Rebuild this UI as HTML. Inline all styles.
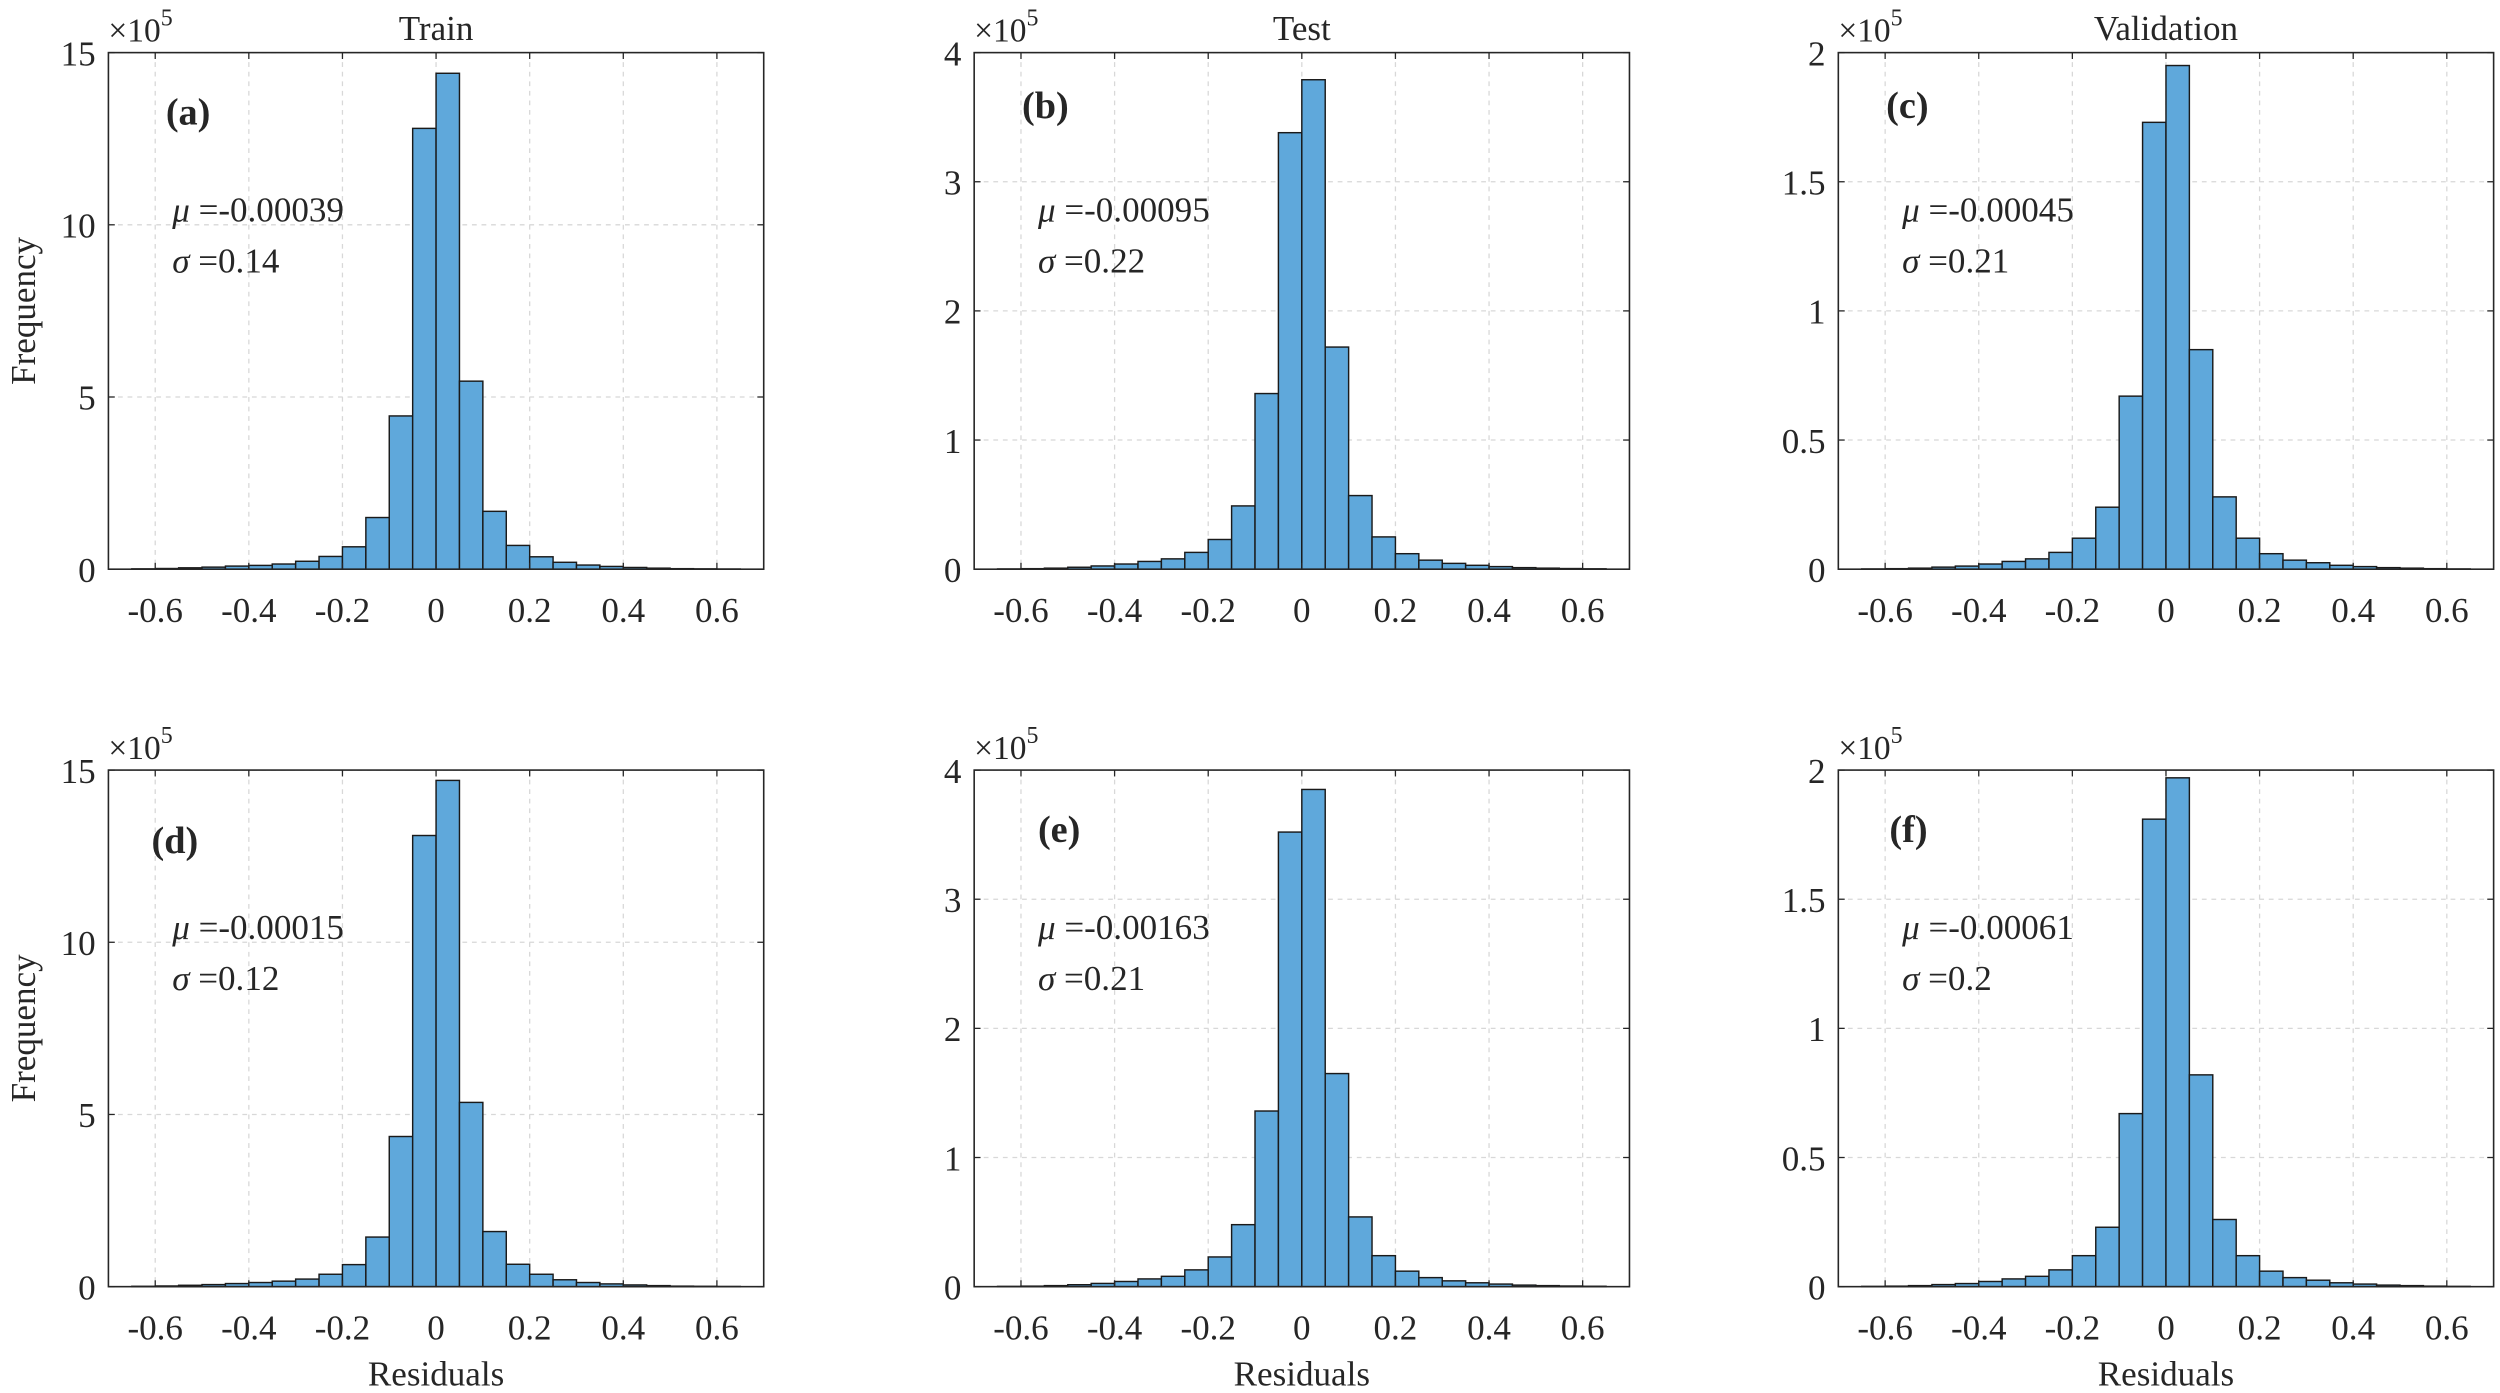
<!DOCTYPE html>
<html><head><meta charset="utf-8"><style>
html,body{margin:0;padding:0;background:#fff;}
svg{display:block;}
text{font-family:"Liberation Serif","DejaVu Serif",serif;fill:#262626;}
</style></head><body>
<svg id="fig" width="2500" height="1393" viewBox="0 0 1568 873.7" preserveAspectRatio="none"></svg>
<script>
// bins start at -0.65, width 0.05 (26 bins to 0.65); values in units of 1e5
const binStart = -0.65;
const binWidth = 0.05;
const xTicks = [-0.6,-0.4,-0.2,0,0.2,0.4,0.6];
const xTickLabels = ["-0.6","-0.4","-0.2","0","0.2","0.4","0.6"];
const yTicksTrain = [0,5,10,15];
const yTicksTest = [0,1,2,3,4];
const yTicksVal = [0,0.5,1,1.5,2];
const yTickLabelsVal = ["0","0.5","1","1.5","2"];
const countsA = [0.01,0.02,0.04,0.06,0.09,0.11,0.15,0.23,0.37,0.65,1.5,4.45,12.8,14.4,5.46,1.68,0.69,0.36,0.2,0.12,0.08,0.05,0.03,0.015,0.01,0.005];
const countsB = [0.002,0.004,0.008,0.015,0.025,0.04,0.06,0.08,0.13,0.23,0.49,1.36,3.38,3.79,1.72,0.57,0.25,0.12,0.07,0.045,0.03,0.02,0.012,0.008,0.005,0.003];
const countsC = [0.001,0.002,0.004,0.008,0.012,0.02,0.03,0.04,0.065,0.12,0.24,0.67,1.73,1.95,0.85,0.28,0.12,0.06,0.035,0.025,0.015,0.01,0.006,0.004,0.002,0.001];
const countsD = [0.01,0.02,0.04,0.06,0.09,0.12,0.16,0.22,0.36,0.64,1.44,4.36,13.1,14.7,5.35,1.6,0.65,0.36,0.2,0.12,0.08,0.05,0.03,0.015,0.01,0.005];
const countsE = [0.002,0.004,0.008,0.015,0.025,0.04,0.06,0.08,0.13,0.23,0.48,1.36,3.52,3.85,1.65,0.54,0.24,0.12,0.07,0.045,0.03,0.02,0.012,0.008,0.005,0.003];
const countsF = [0.001,0.002,0.004,0.008,0.012,0.02,0.03,0.04,0.065,0.12,0.23,0.67,1.81,1.97,0.82,0.26,0.12,0.06,0.035,0.025,0.015,0.01,0.006,0.004,0.002,0.001];

const NS = "http://www.w3.org/2000/svg";
const svg = document.getElementById('fig');
function mk(tag, attrs, parent, txt){
  const e = document.createElementNS(NS, tag);
  for (const k in attrs) e.setAttribute(k, attrs[k]);
  if (txt !== undefined) e.textContent = txt;
  (parent||svg).appendChild(e);
  return e;
}

const panels = [
  {id:'a', L:68, T:33, counts:countsA, yt:yTicksTrain, ytl:null, ymax:15, title:'Train', mu:'-0.00039', sg:'0.14', lx:36, ly:37, ylab:true, xlab:false},
  {id:'b', L:611, T:33, counts:countsB, yt:yTicksTest, ytl:null, ymax:4, title:'Test', mu:'-0.00095', sg:'0.22', lx:30, ly:33, ylab:false, xlab:false},
  {id:'c', L:1153, T:33, counts:countsC, yt:yTicksVal, ytl:yTickLabelsVal, ymax:2, title:'Validation', mu:'-0.00045', sg:'0.21', lx:30, ly:33, ylab:false, xlab:false},
  {id:'d', L:68, T:483, counts:countsD, yt:yTicksTrain, ytl:null, ymax:15, title:null, mu:'-0.00015', sg:'0.12', lx:27, ly:44, ylab:true, xlab:true},
  {id:'e', L:611, T:483, counts:countsE, yt:yTicksTest, ytl:null, ymax:4, title:null, mu:'-0.00163', sg:'0.21', lx:40, ly:37, ylab:false, xlab:true},
  {id:'f', L:1153, T:483, counts:countsF, yt:yTicksVal, ytl:yTickLabelsVal, ymax:2, title:null, mu:'-0.00061', sg:'0.2', lx:32, ly:37, ylab:false, xlab:true}
];
const W = 411, H = 324;

panels.forEach(p => {
  const g = mk('g', {});
  
  
  const xs = v => p.L + (v + 0.7) / 1.4 * W;
  const ys = v => p.T + H - v / p.ymax * H;
  xTicks.forEach(t => {
    const l = mk('line', {x1:xs(t), x2:xs(t), y1:p.T, y2:p.T+H, stroke:'#d8d8d8', 'stroke-width':0.8, 'stroke-dasharray':'3,3'}, g);
    
    
  });
  p.yt.forEach(t => {
    const l = mk('line', {x1:p.L, x2:p.L+W, y1:ys(t), y2:ys(t), stroke:'#d8d8d8', 'stroke-width':0.8, 'stroke-dasharray':'3,3'}, g);
    
    
  });
  p.counts.forEach((c, i) => {
    const x0 = binStart + i * binWidth;
    const r = mk('rect', {x:xs(x0), y:ys(c), width:xs(x0+binWidth)-xs(x0), height:ys(0)-ys(c), fill:'#5fa8db', stroke:'#1a1a1a', 'stroke-width':0.9}, g);
    
    
  });
  const b = mk('rect', {x:p.L, y:p.T, width:W, height:H, fill:'none', stroke:'#262626', 'stroke-width':1}, g);
  
  
  xTicks.forEach((t, i) => {
    mk('line', {x1:xs(t), x2:xs(t), y1:p.T+H, y2:p.T+H-4, stroke:'#262626', 'stroke-width':0.8}, g);
    mk('line', {x1:xs(t), x2:xs(t), y1:p.T, y2:p.T+4, stroke:'#262626', 'stroke-width':0.8}, g);
    const tx = mk('text', {x:xs(t), y:p.T+H+33, 'text-anchor':'middle', 'font-size':22}, g, xTickLabels[i]);
    
    
  });
  p.yt.forEach((t, i) => {
    mk('line', {x1:p.L, x2:p.L+4, y1:ys(t), y2:ys(t), stroke:'#262626', 'stroke-width':0.8}, g);
    mk('line', {x1:p.L+W, x2:p.L+W-4, y1:ys(t), y2:ys(t), stroke:'#262626', 'stroke-width':0.8}, g);
    const tx = mk('text', {x:p.L-8, y:ys(t)+8, 'text-anchor':'end', 'font-size':22}, g, p.ytl ? p.ytl[i] : String(t));
    
    
  });
  const ex = mk('text', {x:p.L, y:p.T-7, 'font-size':21}, g);
  
  
  mk('tspan', {}, ex, '×10');
  mk('tspan', {dy:-10, 'font-size':15}, ex, '5');
  if (p.title) {
    const t = mk('text', {x:p.L+W/2, y:p.T-8, 'text-anchor':'middle', 'font-size':22}, g, p.title);
    
    
  }
  const pl = mk('text', {x:p.L+p.lx, y:p.T+p.ly+8, 'font-size':24, 'font-weight':'bold', fill:'#000'}, g, '(' + p.id + ')');
  
  
  const mt = mk('text', {x:p.L+40, y:p.T+106, 'font-size':22}, g);
  
  
  mk('tspan', {'font-style':'italic'}, mt, 'μ');
  mk('tspan', {}, mt, ' =' + p.mu);
  const st = mk('text', {x:p.L+40, y:p.T+138, 'font-size':22}, g);
  
  
  mk('tspan', {'font-style':'italic'}, st, 'σ');
  mk('tspan', {}, st, ' =' + p.sg);
  if (p.ylab) {
    const yl = mk('text', {x:0, y:0, 'text-anchor':'middle', 'font-size':22, transform:'translate(22,' + (p.T+H/2) + ') rotate(-90)'}, g, 'Frequency');
    
    
  }
  if (p.xlab) {
    const xl = mk('text', {x:p.L+W/2, y:p.T+H+62, 'text-anchor':'middle', 'font-size':22}, g, 'Residuals');
    
    
  }
});
</script>
</body></html>
